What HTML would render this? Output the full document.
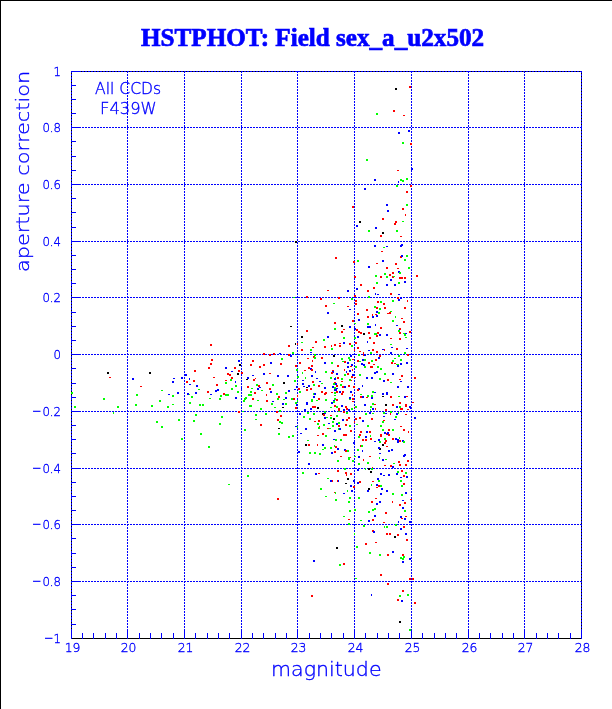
<!DOCTYPE html>
<html><head><meta charset="utf-8"><title>HSTPHOT: Field sex_a_u2x502</title>
<style>html,body{margin:0;padding:0;background:#fff;width:612px;height:709px;overflow:hidden}svg{display:block}</style>
</head><body>
<svg width="612" height="709" viewBox="0 0 612 709"><g shape-rendering="crispEdges"><rect x="0" y="0" width="612" height="1" fill="#000"/>
<rect x="0" y="0" width="1" height="709" fill="#000"/>
<rect x="71" y="71" width="511" height="1" fill="#000"/>
<rect x="71" y="638" width="511" height="1" fill="#000"/>
<rect x="71" y="71" width="1" height="568" fill="#000"/>
<rect x="581" y="71" width="1" height="568" fill="#000"/>
<defs><pattern id="ph" x="0" y="0" width="3" height="1" patternUnits="userSpaceOnUse"><rect x="1" y="0" width="2" height="1" fill="#00f"/></pattern><pattern id="pv" x="0" y="0" width="1" height="3" patternUnits="userSpaceOnUse"><rect x="0" y="2" width="1" height="1" fill="#00f"/><rect x="0" y="0" width="1" height="1" fill="#00f"/></pattern></defs>
<rect x="71" y="71" width="511" height="1" fill="url(#ph)"/>
<rect x="71" y="127" width="511" height="1" fill="url(#ph)"/>
<rect x="71" y="184" width="511" height="1" fill="url(#ph)"/>
<rect x="71" y="241" width="511" height="1" fill="url(#ph)"/>
<rect x="71" y="297" width="511" height="1" fill="url(#ph)"/>
<rect x="71" y="354" width="511" height="1" fill="url(#ph)"/>
<rect x="71" y="411" width="511" height="1" fill="url(#ph)"/>
<rect x="71" y="468" width="511" height="1" fill="url(#ph)"/>
<rect x="71" y="524" width="511" height="1" fill="url(#ph)"/>
<rect x="71" y="581" width="511" height="1" fill="url(#ph)"/>
<rect x="71" y="71" width="1" height="568" fill="url(#pv)"/>
<rect x="127" y="71" width="1" height="568" fill="url(#pv)"/>
<rect x="184" y="71" width="1" height="568" fill="url(#pv)"/>
<rect x="241" y="71" width="1" height="568" fill="url(#pv)"/>
<rect x="297" y="71" width="1" height="568" fill="url(#pv)"/>
<rect x="354" y="71" width="1" height="568" fill="url(#pv)"/>
<rect x="411" y="71" width="1" height="568" fill="url(#pv)"/>
<rect x="468" y="71" width="1" height="568" fill="url(#pv)"/>
<rect x="524" y="71" width="1" height="568" fill="url(#pv)"/>
<rect x="581" y="71" width="1" height="568" fill="url(#pv)"/>
<rect x="71" y="629" width="1" height="10" fill="#00f"/>
<rect x="82" y="633" width="1" height="6" fill="#00f"/>
<rect x="93" y="633" width="1" height="6" fill="#00f"/>
<rect x="105" y="633" width="1" height="6" fill="#00f"/>
<rect x="116" y="633" width="1" height="6" fill="#00f"/>
<rect x="127" y="629" width="1" height="10" fill="#00f"/>
<rect x="139" y="633" width="1" height="6" fill="#00f"/>
<rect x="150" y="633" width="1" height="6" fill="#00f"/>
<rect x="161" y="633" width="1" height="6" fill="#00f"/>
<rect x="173" y="633" width="1" height="6" fill="#00f"/>
<rect x="184" y="629" width="1" height="10" fill="#00f"/>
<rect x="195" y="633" width="1" height="6" fill="#00f"/>
<rect x="207" y="633" width="1" height="6" fill="#00f"/>
<rect x="218" y="633" width="1" height="6" fill="#00f"/>
<rect x="229" y="633" width="1" height="6" fill="#00f"/>
<rect x="241" y="629" width="1" height="10" fill="#00f"/>
<rect x="252" y="633" width="1" height="6" fill="#00f"/>
<rect x="263" y="633" width="1" height="6" fill="#00f"/>
<rect x="275" y="633" width="1" height="6" fill="#00f"/>
<rect x="286" y="633" width="1" height="6" fill="#00f"/>
<rect x="297" y="629" width="1" height="10" fill="#00f"/>
<rect x="309" y="633" width="1" height="6" fill="#00f"/>
<rect x="320" y="633" width="1" height="6" fill="#00f"/>
<rect x="331" y="633" width="1" height="6" fill="#00f"/>
<rect x="343" y="633" width="1" height="6" fill="#00f"/>
<rect x="354" y="629" width="1" height="10" fill="#00f"/>
<rect x="365" y="633" width="1" height="6" fill="#00f"/>
<rect x="377" y="633" width="1" height="6" fill="#00f"/>
<rect x="388" y="633" width="1" height="6" fill="#00f"/>
<rect x="399" y="633" width="1" height="6" fill="#00f"/>
<rect x="411" y="629" width="1" height="10" fill="#00f"/>
<rect x="422" y="633" width="1" height="6" fill="#00f"/>
<rect x="434" y="633" width="1" height="6" fill="#00f"/>
<rect x="445" y="633" width="1" height="6" fill="#00f"/>
<rect x="456" y="633" width="1" height="6" fill="#00f"/>
<rect x="468" y="629" width="1" height="10" fill="#00f"/>
<rect x="479" y="633" width="1" height="6" fill="#00f"/>
<rect x="490" y="633" width="1" height="6" fill="#00f"/>
<rect x="502" y="633" width="1" height="6" fill="#00f"/>
<rect x="513" y="633" width="1" height="6" fill="#00f"/>
<rect x="524" y="629" width="1" height="10" fill="#00f"/>
<rect x="536" y="633" width="1" height="6" fill="#00f"/>
<rect x="547" y="633" width="1" height="6" fill="#00f"/>
<rect x="558" y="633" width="1" height="6" fill="#00f"/>
<rect x="570" y="633" width="1" height="6" fill="#00f"/>
<rect x="581" y="629" width="1" height="10" fill="#00f"/>
<rect x="71" y="71" width="10" height="1" fill="#00f"/>
<rect x="71" y="85" width="5" height="1" fill="#00f"/>
<rect x="71" y="99" width="5" height="1" fill="#00f"/>
<rect x="71" y="113" width="5" height="1" fill="#00f"/>
<rect x="71" y="127" width="10" height="1" fill="#00f"/>
<rect x="71" y="141" width="5" height="1" fill="#00f"/>
<rect x="71" y="156" width="5" height="1" fill="#00f"/>
<rect x="71" y="170" width="5" height="1" fill="#00f"/>
<rect x="71" y="184" width="10" height="1" fill="#00f"/>
<rect x="71" y="198" width="5" height="1" fill="#00f"/>
<rect x="71" y="212" width="5" height="1" fill="#00f"/>
<rect x="71" y="227" width="5" height="1" fill="#00f"/>
<rect x="71" y="241" width="10" height="1" fill="#00f"/>
<rect x="71" y="255" width="5" height="1" fill="#00f"/>
<rect x="71" y="269" width="5" height="1" fill="#00f"/>
<rect x="71" y="283" width="5" height="1" fill="#00f"/>
<rect x="71" y="297" width="10" height="1" fill="#00f"/>
<rect x="71" y="312" width="5" height="1" fill="#00f"/>
<rect x="71" y="326" width="5" height="1" fill="#00f"/>
<rect x="71" y="340" width="5" height="1" fill="#00f"/>
<rect x="71" y="354" width="10" height="1" fill="#00f"/>
<rect x="71" y="368" width="5" height="1" fill="#00f"/>
<rect x="71" y="383" width="5" height="1" fill="#00f"/>
<rect x="71" y="397" width="5" height="1" fill="#00f"/>
<rect x="71" y="411" width="10" height="1" fill="#00f"/>
<rect x="71" y="425" width="5" height="1" fill="#00f"/>
<rect x="71" y="439" width="5" height="1" fill="#00f"/>
<rect x="71" y="453" width="5" height="1" fill="#00f"/>
<rect x="71" y="468" width="10" height="1" fill="#00f"/>
<rect x="71" y="482" width="5" height="1" fill="#00f"/>
<rect x="71" y="496" width="5" height="1" fill="#00f"/>
<rect x="71" y="510" width="5" height="1" fill="#00f"/>
<rect x="71" y="524" width="10" height="1" fill="#00f"/>
<rect x="71" y="538" width="5" height="1" fill="#00f"/>
<rect x="71" y="553" width="5" height="1" fill="#00f"/>
<rect x="71" y="567" width="5" height="1" fill="#00f"/>
<rect x="71" y="581" width="10" height="1" fill="#00f"/>
<rect x="71" y="595" width="5" height="1" fill="#00f"/>
<rect x="71" y="609" width="5" height="1" fill="#00f"/>
<rect x="71" y="624" width="5" height="1" fill="#00f"/>
<rect x="395" y="88" width="2" height="2" fill="#000"/>
<rect x="409" y="86" width="2" height="2" fill="#f00"/>
<rect x="393" y="110" width="2" height="2" fill="#f00"/>
<rect x="376" y="113" width="2" height="2" fill="#0f0"/>
<rect x="403" y="115" width="2" height="1" fill="#f00"/>
<rect x="408" y="130" width="2" height="2" fill="#00f"/>
<rect x="398" y="132" width="2" height="2" fill="#00f"/>
<rect x="402" y="142" width="2" height="2" fill="#0f0"/>
<rect x="410" y="143" width="2" height="2" fill="#f00"/>
<rect x="366" y="159" width="2" height="2" fill="#0f0"/>
<rect x="411" y="168" width="2" height="2" fill="#00f"/>
<rect x="397" y="170" width="2" height="1" fill="#f00"/>
<rect x="374" y="179" width="2" height="2" fill="#00f"/>
<rect x="400" y="179" width="2" height="2" fill="#0f0"/>
<rect x="402" y="180" width="2" height="2" fill="#0f0"/>
<rect x="406" y="178" width="2" height="2" fill="#0f0"/>
<rect x="398" y="181" width="1" height="2" fill="#00f"/>
<rect x="396" y="185" width="2" height="2" fill="#0f0"/>
<rect x="410" y="185" width="2" height="2" fill="#f00"/>
<rect x="364" y="188" width="2" height="2" fill="#00f"/>
<rect x="406" y="191" width="2" height="2" fill="#f00"/>
<rect x="386" y="204" width="2" height="2" fill="#00f"/>
<rect x="406" y="204" width="2" height="2" fill="#0f0"/>
<rect x="402" y="208" width="2" height="2" fill="#f00"/>
<rect x="387" y="210" width="2" height="2" fill="#00f"/>
<rect x="405" y="214" width="1" height="2" fill="#f00"/>
<rect x="382" y="218" width="2" height="2" fill="#f00"/>
<rect x="359" y="221" width="2" height="2" fill="#000"/>
<rect x="395" y="221" width="2" height="2" fill="#f00"/>
<rect x="402" y="221" width="2" height="1" fill="#0f0"/>
<rect x="394" y="223" width="2" height="2" fill="#f00"/>
<rect x="356" y="225" width="2" height="2" fill="#00f"/>
<rect x="375" y="227" width="2" height="2" fill="#00f"/>
<rect x="368" y="230" width="2" height="2" fill="#0f0"/>
<rect x="396" y="230" width="2" height="2" fill="#0f0"/>
<rect x="382" y="232" width="2" height="2" fill="#000"/>
<rect x="380" y="235" width="2" height="2" fill="#f00"/>
<rect x="400" y="236" width="2" height="1" fill="#f00"/>
<rect x="374" y="245" width="2" height="2" fill="#00f"/>
<rect x="383" y="247" width="2" height="1" fill="#0f0"/>
<rect x="386" y="246" width="2" height="1" fill="#00f"/>
<rect x="401" y="244" width="2" height="2" fill="#00f"/>
<rect x="400" y="245" width="2" height="2" fill="#00f"/>
<rect x="381" y="251" width="2" height="1" fill="#f00"/>
<rect x="400" y="256" width="2" height="2" fill="#f00"/>
<rect x="401" y="255" width="2" height="2" fill="#00f"/>
<rect x="406" y="255" width="2" height="2" fill="#0f0"/>
<rect x="404" y="259" width="2" height="2" fill="#0f0"/>
<rect x="353" y="261" width="2" height="2" fill="#f00"/>
<rect x="357" y="260" width="2" height="2" fill="#0f0"/>
<rect x="382" y="260" width="2" height="2" fill="#00f"/>
<rect x="376" y="263" width="2" height="1" fill="#f00"/>
<rect x="395" y="263" width="2" height="2" fill="#f00"/>
<rect x="368" y="266" width="2" height="2" fill="#00f"/>
<rect x="386" y="267" width="2" height="2" fill="#f00"/>
<rect x="397" y="268" width="2" height="1" fill="#f00"/>
<rect x="408" y="267" width="2" height="2" fill="#0f0"/>
<rect x="398" y="271" width="2" height="2" fill="#00f"/>
<rect x="399" y="272" width="2" height="2" fill="#0f0"/>
<rect x="392" y="272" width="2" height="2" fill="#f00"/>
<rect x="384" y="273" width="2" height="2" fill="#0f0"/>
<rect x="389" y="274" width="2" height="2" fill="#f00"/>
<rect x="375" y="275" width="2" height="2" fill="#0f0"/>
<rect x="354" y="276" width="2" height="2" fill="#f00"/>
<rect x="380" y="276" width="2" height="2" fill="#f00"/>
<rect x="386" y="276" width="2" height="2" fill="#0f0"/>
<rect x="392" y="276" width="2" height="2" fill="#f00"/>
<rect x="393" y="276" width="2" height="1" fill="#0f0"/>
<rect x="399" y="277" width="4" height="2" fill="#f00"/>
<rect x="404" y="277" width="2" height="2" fill="#f00"/>
<rect x="390" y="279" width="2" height="2" fill="#00f"/>
<rect x="404" y="281" width="2" height="2" fill="#00f"/>
<rect x="376" y="282" width="2" height="2" fill="#0f0"/>
<rect x="398" y="282" width="2" height="2" fill="#0f0"/>
<rect x="386" y="284" width="2" height="2" fill="#00f"/>
<rect x="394" y="284" width="2" height="2" fill="#00f"/>
<rect x="360" y="284" width="2" height="2" fill="#f00"/>
<rect x="356" y="288" width="2" height="2" fill="#00f"/>
<rect x="373" y="287" width="2" height="2" fill="#f00"/>
<rect x="367" y="290" width="2" height="2" fill="#f00"/>
<rect x="375" y="293" width="1" height="2" fill="#00f"/>
<rect x="377" y="294" width="2" height="1" fill="#00f"/>
<rect x="390" y="293" width="2" height="2" fill="#f00"/>
<rect x="398" y="294" width="2" height="1" fill="#00f"/>
<rect x="354" y="295" width="2" height="2" fill="#f00"/>
<rect x="368" y="296" width="2" height="2" fill="#0f0"/>
<rect x="397" y="297" width="2" height="2" fill="#f00"/>
<rect x="400" y="297" width="2" height="2" fill="#00f"/>
<rect x="398" y="299" width="2" height="2" fill="#00f"/>
<rect x="355" y="300" width="2" height="2" fill="#f00"/>
<rect x="377" y="301" width="2" height="2" fill="#f00"/>
<rect x="380" y="301" width="2" height="2" fill="#0f0"/>
<rect x="392" y="300" width="2" height="2" fill="#0f0"/>
<rect x="407" y="300" width="1" height="2" fill="#f00"/>
<rect x="355" y="303" width="2" height="2" fill="#f00"/>
<rect x="383" y="303" width="2" height="2" fill="#f00"/>
<rect x="374" y="306" width="2" height="2" fill="#0f0"/>
<rect x="376" y="307" width="2" height="2" fill="#f00"/>
<rect x="384" y="307" width="2" height="2" fill="#f00"/>
<rect x="379" y="308" width="2" height="2" fill="#0f0"/>
<rect x="404" y="307" width="2" height="2" fill="#f00"/>
<rect x="366" y="309" width="2" height="2" fill="#f00"/>
<rect x="376" y="311" width="2" height="2" fill="#00f"/>
<rect x="378" y="312" width="2" height="2" fill="#0f0"/>
<rect x="390" y="311" width="2" height="1" fill="#0f0"/>
<rect x="387" y="313" width="2" height="1" fill="#f00"/>
<rect x="389" y="312" width="2" height="2" fill="#f00"/>
<rect x="357" y="313" width="2" height="2" fill="#f00"/>
<rect x="372" y="314" width="1" height="2" fill="#f00"/>
<rect x="375" y="314" width="2" height="1" fill="#f00"/>
<rect x="376" y="315" width="2" height="2" fill="#00f"/>
<rect x="372" y="316" width="2" height="2" fill="#00f"/>
<rect x="367" y="316" width="2" height="2" fill="#f00"/>
<rect x="395" y="316" width="1" height="2" fill="#0f0"/>
<rect x="401" y="318" width="2" height="1" fill="#f00"/>
<rect x="358" y="319" width="2" height="2" fill="#00f"/>
<rect x="392" y="320" width="2" height="2" fill="#0f0"/>
<rect x="403" y="321" width="2" height="2" fill="#f00"/>
<rect x="354" y="323" width="2" height="1" fill="#0f0"/>
<rect x="367" y="323" width="2" height="2" fill="#0f0"/>
<rect x="375" y="324" width="1" height="2" fill="#00f"/>
<rect x="396" y="325" width="2" height="1" fill="#00f"/>
<rect x="367" y="326" width="4" height="2" fill="#00f"/>
<rect x="380" y="327" width="2" height="2" fill="#f00"/>
<rect x="354" y="328" width="2" height="2" fill="#00f"/>
<rect x="399" y="328" width="2" height="2" fill="#f00"/>
<rect x="399" y="329" width="1" height="2" fill="#00f"/>
<rect x="398" y="330" width="2" height="2" fill="#0f0"/>
<rect x="356" y="329" width="2" height="2" fill="#f00"/>
<rect x="358" y="331" width="2" height="2" fill="#f00"/>
<rect x="360" y="332" width="2" height="2" fill="#f00"/>
<rect x="363" y="333" width="2" height="2" fill="#000"/>
<rect x="368" y="332" width="2" height="2" fill="#f00"/>
<rect x="377" y="332" width="2" height="2" fill="#f00"/>
<rect x="374" y="333" width="3" height="2" fill="#0f0"/>
<rect x="376" y="335" width="2" height="2" fill="#f00"/>
<rect x="379" y="334" width="2" height="2" fill="#00f"/>
<rect x="386" y="334" width="2" height="2" fill="#00f"/>
<rect x="399" y="332" width="2" height="2" fill="#f00"/>
<rect x="403" y="333" width="2" height="1" fill="#0f0"/>
<rect x="405" y="333" width="2" height="1" fill="#00f"/>
<rect x="404" y="334" width="2" height="2" fill="#0f0"/>
<rect x="409" y="331" width="2" height="2" fill="#f00"/>
<rect x="357" y="336" width="2" height="2" fill="#00f"/>
<rect x="354" y="337" width="2" height="2" fill="#0f0"/>
<rect x="369" y="337" width="2" height="2" fill="#f00"/>
<rect x="405" y="337" width="2" height="1" fill="#0f0"/>
<rect x="390" y="338" width="2" height="1" fill="#f00"/>
<rect x="399" y="338" width="2" height="2" fill="#f00"/>
<rect x="367" y="341" width="1" height="2" fill="#00f"/>
<rect x="355" y="342" width="2" height="2" fill="#f00"/>
<rect x="373" y="342" width="2" height="2" fill="#f00"/>
<rect x="390" y="344" width="2" height="1" fill="#0f0"/>
<rect x="391" y="347" width="2" height="1" fill="#00f"/>
<rect x="406" y="348" width="2" height="1" fill="#00f"/>
<rect x="357" y="347" width="2" height="2" fill="#f00"/>
<rect x="396" y="348" width="2" height="2" fill="#f00"/>
<rect x="354" y="349" width="1" height="2" fill="#f00"/>
<rect x="368" y="350" width="2" height="1" fill="#00f"/>
<rect x="372" y="349" width="2" height="2" fill="#f00"/>
<rect x="382" y="349" width="2" height="1" fill="#00f"/>
<rect x="384" y="349" width="1" height="2" fill="#f00"/>
<rect x="359" y="351" width="2" height="1" fill="#f00"/>
<rect x="376" y="351" width="2" height="2" fill="#f00"/>
<rect x="370" y="352" width="2" height="2" fill="#0f0"/>
<rect x="363" y="352" width="1" height="2" fill="#f00"/>
<rect x="390" y="352" width="2" height="2" fill="#00f"/>
<rect x="404" y="352" width="2" height="2" fill="#0f0"/>
<rect x="358" y="354" width="2" height="2" fill="#0f0"/>
<rect x="363" y="354" width="1" height="2" fill="#f00"/>
<rect x="364" y="354" width="2" height="2" fill="#00f"/>
<rect x="379" y="355" width="2" height="2" fill="#f00"/>
<rect x="398" y="355" width="2" height="2" fill="#0f0"/>
<rect x="407" y="354" width="2" height="2" fill="#f00"/>
<rect x="378" y="357" width="2" height="2" fill="#00f"/>
<rect x="357" y="360" width="2" height="2" fill="#f00"/>
<rect x="359" y="361" width="2" height="1" fill="#0f0"/>
<rect x="362" y="359" width="2" height="2" fill="#00f"/>
<rect x="364" y="359" width="2" height="2" fill="#0f0"/>
<rect x="371" y="360" width="2" height="2" fill="#0f0"/>
<rect x="375" y="359" width="2" height="2" fill="#f00"/>
<rect x="394" y="358" width="2" height="1" fill="#0f0"/>
<rect x="392" y="360" width="2" height="2" fill="#0f0"/>
<rect x="400" y="359" width="2" height="2" fill="#0f0"/>
<rect x="406" y="362" width="2" height="2" fill="#00f"/>
<rect x="391" y="362" width="2" height="2" fill="#f00"/>
<rect x="394" y="363" width="2" height="1" fill="#f00"/>
<rect x="400" y="363" width="2" height="2" fill="#00f"/>
<rect x="396" y="364" width="3" height="1" fill="#0f0"/>
<rect x="397" y="365" width="2" height="2" fill="#00f"/>
<rect x="368" y="362" width="2" height="2" fill="#f00"/>
<rect x="361" y="363" width="2" height="2" fill="#00f"/>
<rect x="363" y="364" width="2" height="2" fill="#00f"/>
<rect x="373" y="364" width="2" height="1" fill="#f00"/>
<rect x="355" y="366" width="2" height="2" fill="#0f0"/>
<rect x="364" y="366" width="2" height="2" fill="#0f0"/>
<rect x="370" y="366" width="3" height="2" fill="#f00"/>
<rect x="377" y="366" width="2" height="2" fill="#0f0"/>
<rect x="380" y="368" width="2" height="2" fill="#0f0"/>
<rect x="374" y="372" width="2" height="2" fill="#00f"/>
<rect x="376" y="371" width="2" height="2" fill="#00f"/>
<rect x="359" y="374" width="2" height="2" fill="#0f0"/>
<rect x="384" y="373" width="2" height="2" fill="#0f0"/>
<rect x="392" y="373" width="2" height="2" fill="#00f"/>
<rect x="354" y="377" width="2" height="1" fill="#f00"/>
<rect x="366" y="377" width="2" height="2" fill="#00f"/>
<rect x="371" y="377" width="2" height="2" fill="#00f"/>
<rect x="401" y="375" width="2" height="2" fill="#f00"/>
<rect x="379" y="378" width="2" height="2" fill="#0f0"/>
<rect x="387" y="379" width="2" height="2" fill="#f00"/>
<rect x="399" y="379" width="2" height="1" fill="#f00"/>
<rect x="383" y="380" width="2" height="2" fill="#00f"/>
<rect x="400" y="381" width="2" height="1" fill="#00f"/>
<rect x="390" y="382" width="2" height="1" fill="#0f0"/>
<rect x="362" y="385" width="1" height="2" fill="#00f"/>
<rect x="354" y="386" width="1" height="2" fill="#f00"/>
<rect x="397" y="386" width="2" height="2" fill="#00f"/>
<rect x="407" y="386" width="2" height="2" fill="#00f"/>
<rect x="358" y="388" width="2" height="2" fill="#00f"/>
<rect x="357" y="389" width="2" height="2" fill="#f00"/>
<rect x="372" y="391" width="2" height="2" fill="#0f0"/>
<rect x="374" y="392" width="2" height="1" fill="#00f"/>
<rect x="382" y="393" width="2" height="2" fill="#00f"/>
<rect x="386" y="392" width="2" height="3" fill="#00f"/>
<rect x="360" y="394" width="2" height="1" fill="#0f0"/>
<rect x="360" y="396" width="2" height="2" fill="#f00"/>
<rect x="362" y="396" width="2" height="2" fill="#00f"/>
<rect x="367" y="395" width="2" height="2" fill="#0f0"/>
<rect x="366" y="397" width="2" height="1" fill="#f00"/>
<rect x="371" y="395" width="2" height="2" fill="#0f0"/>
<rect x="371" y="397" width="2" height="2" fill="#00f"/>
<rect x="382" y="396" width="2" height="1" fill="#000"/>
<rect x="390" y="396" width="2" height="2" fill="#f00"/>
<rect x="398" y="396" width="2" height="1" fill="#0f0"/>
<rect x="404" y="396" width="2" height="2" fill="#00f"/>
<rect x="406" y="396" width="2" height="1" fill="#f00"/>
<rect x="412" y="402" width="2" height="1" fill="#f00"/>
<rect x="399" y="402" width="2" height="2" fill="#f00"/>
<rect x="364" y="404" width="2" height="2" fill="#00f"/>
<rect x="372" y="403" width="2" height="2" fill="#0f0"/>
<rect x="374" y="404" width="2" height="1" fill="#f00"/>
<rect x="385" y="404" width="2" height="2" fill="#000"/>
<rect x="392" y="404" width="2" height="2" fill="#f00"/>
<rect x="405" y="404" width="2" height="3" fill="#f00"/>
<rect x="396" y="406" width="2" height="2" fill="#00f"/>
<rect x="399" y="406" width="2" height="2" fill="#0f0"/>
<rect x="370" y="406" width="2" height="2" fill="#0f0"/>
<rect x="354" y="407" width="2" height="1" fill="#f00"/>
<rect x="355" y="406" width="2" height="2" fill="#0f0"/>
<rect x="409" y="406" width="2" height="2" fill="#00f"/>
<rect x="410" y="407" width="2" height="2" fill="#00f"/>
<rect x="372" y="408" width="2" height="2" fill="#00f"/>
<rect x="375" y="408" width="1" height="2" fill="#f00"/>
<rect x="400" y="408" width="3" height="2" fill="#f00"/>
<rect x="407" y="409" width="2" height="1" fill="#f00"/>
<rect x="385" y="409" width="2" height="2" fill="#f00"/>
<rect x="370" y="409" width="1" height="2" fill="#0f0"/>
<rect x="365" y="413" width="2" height="2" fill="#0f0"/>
<rect x="369" y="412" width="2" height="2" fill="#00f"/>
<rect x="372" y="413" width="2" height="1" fill="#0f0"/>
<rect x="383" y="412" width="2" height="2" fill="#0f0"/>
<rect x="385" y="413" width="2" height="1" fill="#00f"/>
<rect x="390" y="411" width="2" height="2" fill="#0f0"/>
<rect x="390" y="413" width="1" height="2" fill="#f00"/>
<rect x="396" y="413" width="2" height="2" fill="#00f"/>
<rect x="398" y="412" width="1" height="2" fill="#0f0"/>
<rect x="405" y="414" width="2" height="1" fill="#f00"/>
<rect x="355" y="418" width="2" height="2" fill="#f00"/>
<rect x="359" y="417" width="2" height="2" fill="#f00"/>
<rect x="362" y="420" width="2" height="2" fill="#00f"/>
<rect x="371" y="418" width="2" height="2" fill="#f00"/>
<rect x="383" y="416" width="2" height="1" fill="#00f"/>
<rect x="395" y="416" width="2" height="2" fill="#0f0"/>
<rect x="394" y="419" width="2" height="1" fill="#00f"/>
<rect x="383" y="420" width="2" height="1" fill="#f00"/>
<rect x="382" y="421" width="2" height="2" fill="#0f0"/>
<rect x="354" y="421" width="1" height="2" fill="#f00"/>
<rect x="356" y="424" width="2" height="1" fill="#0f0"/>
<rect x="367" y="425" width="2" height="2" fill="#0f0"/>
<rect x="380" y="425" width="2" height="2" fill="#0f0"/>
<rect x="400" y="426" width="2" height="1" fill="#f00"/>
<rect x="382" y="429" width="2" height="2" fill="#0f0"/>
<rect x="388" y="429" width="2" height="2" fill="#f00"/>
<rect x="392" y="429" width="2" height="2" fill="#0f0"/>
<rect x="403" y="429" width="2" height="2" fill="#f00"/>
<rect x="360" y="431" width="2" height="2" fill="#f00"/>
<rect x="366" y="431" width="2" height="2" fill="#00f"/>
<rect x="369" y="431" width="2" height="2" fill="#f00"/>
<rect x="408" y="431" width="1" height="2" fill="#f00"/>
<rect x="384" y="432" width="2" height="2" fill="#00f"/>
<rect x="387" y="432" width="2" height="3" fill="#00f"/>
<rect x="380" y="434" width="2" height="3" fill="#f00"/>
<rect x="386" y="433" width="1" height="2" fill="#f00"/>
<rect x="388" y="434" width="2" height="2" fill="#f00"/>
<rect x="359" y="434" width="2" height="2" fill="#f00"/>
<rect x="370" y="435" width="1" height="2" fill="#0f0"/>
<rect x="365" y="436" width="2" height="2" fill="#00f"/>
<rect x="358" y="436" width="2" height="2" fill="#0f0"/>
<rect x="399" y="437" width="1" height="2" fill="#0f0"/>
<rect x="362" y="439" width="2" height="2" fill="#f00"/>
<rect x="365" y="439" width="2" height="2" fill="#f00"/>
<rect x="370" y="438" width="2" height="2" fill="#f00"/>
<rect x="378" y="439" width="2" height="2" fill="#00f"/>
<rect x="384" y="438" width="2" height="2" fill="#0f0"/>
<rect x="392" y="438" width="2" height="2" fill="#f00"/>
<rect x="395" y="438" width="2" height="2" fill="#00f"/>
<rect x="397" y="439" width="2" height="4" fill="#00f"/>
<rect x="399" y="440" width="2" height="2" fill="#f00"/>
<rect x="402" y="440" width="2" height="2" fill="#00f"/>
<rect x="403" y="441" width="2" height="2" fill="#0f0"/>
<rect x="374" y="441" width="2" height="1" fill="#00f"/>
<rect x="379" y="441" width="2" height="2" fill="#0f0"/>
<rect x="385" y="440" width="2" height="2" fill="#f00"/>
<rect x="384" y="442" width="2" height="2" fill="#f00"/>
<rect x="382" y="444" width="2" height="2" fill="#000"/>
<rect x="386" y="446" width="2" height="1" fill="#f00"/>
<rect x="360" y="445" width="1" height="2" fill="#f00"/>
<rect x="361" y="445" width="2" height="2" fill="#0f0"/>
<rect x="379" y="448" width="2" height="2" fill="#000"/>
<rect x="378" y="447" width="2" height="2" fill="#00f"/>
<rect x="357" y="449" width="2" height="2" fill="#0f0"/>
<rect x="362" y="450" width="1" height="2" fill="#00f"/>
<rect x="388" y="450" width="2" height="2" fill="#00f"/>
<rect x="391" y="449" width="2" height="2" fill="#00f"/>
<rect x="379" y="453" width="2" height="1" fill="#00f"/>
<rect x="404" y="454" width="2" height="2" fill="#00f"/>
<rect x="403" y="455" width="2" height="2" fill="#00f"/>
<rect x="354" y="456" width="2" height="1" fill="#0f0"/>
<rect x="358" y="456" width="2" height="2" fill="#00f"/>
<rect x="369" y="456" width="2" height="1" fill="#f00"/>
<rect x="379" y="457" width="1" height="2" fill="#0f0"/>
<rect x="363" y="459" width="1" height="2" fill="#f00"/>
<rect x="382" y="459" width="2" height="2" fill="#00f"/>
<rect x="385" y="459" width="2" height="1" fill="#0f0"/>
<rect x="398" y="461" width="2" height="2" fill="#f00"/>
<rect x="407" y="460" width="2" height="2" fill="#f00"/>
<rect x="367" y="462" width="2" height="2" fill="#0f0"/>
<rect x="358" y="463" width="2" height="2" fill="#0f0"/>
<rect x="393" y="463" width="2" height="1" fill="#0f0"/>
<rect x="399" y="464" width="2" height="2" fill="#f00"/>
<rect x="405" y="464" width="2" height="2" fill="#f00"/>
<rect x="384" y="465" width="2" height="1" fill="#f00"/>
<rect x="390" y="465" width="2" height="2" fill="#f00"/>
<rect x="392" y="466" width="2" height="2" fill="#00f"/>
<rect x="357" y="469" width="2" height="2" fill="#00f"/>
<rect x="365" y="468" width="1" height="2" fill="#0f0"/>
<rect x="368" y="468" width="2" height="2" fill="#000"/>
<rect x="372" y="467" width="1" height="2" fill="#f00"/>
<rect x="371" y="468" width="2" height="2" fill="#0f0"/>
<rect x="370" y="471" width="2" height="2" fill="#000"/>
<rect x="401" y="470" width="2" height="2" fill="#f00"/>
<rect x="397" y="471" width="2" height="2" fill="#0f0"/>
<rect x="405" y="472" width="2" height="2" fill="#0f0"/>
<rect x="380" y="473" width="2" height="2" fill="#00f"/>
<rect x="383" y="475" width="2" height="1" fill="#00f"/>
<rect x="388" y="474" width="2" height="2" fill="#00f"/>
<rect x="396" y="473" width="2" height="2" fill="#00f"/>
<rect x="403" y="475" width="2" height="2" fill="#f00"/>
<rect x="406" y="476" width="2" height="2" fill="#00f"/>
<rect x="400" y="477" width="2" height="1" fill="#00f"/>
<rect x="377" y="478" width="2" height="2" fill="#00f"/>
<rect x="378" y="480" width="2" height="2" fill="#0f0"/>
<rect x="372" y="481" width="2" height="1" fill="#f00"/>
<rect x="359" y="481" width="2" height="2" fill="#f00"/>
<rect x="357" y="482" width="2" height="2" fill="#00f"/>
<rect x="400" y="480" width="2" height="2" fill="#0f0"/>
<rect x="403" y="483" width="2" height="2" fill="#f00"/>
<rect x="371" y="484" width="1" height="2" fill="#0f0"/>
<rect x="376" y="484" width="2" height="2" fill="#00f"/>
<rect x="378" y="485" width="2" height="2" fill="#f00"/>
<rect x="376" y="487" width="2" height="1" fill="#f00"/>
<rect x="380" y="485" width="2" height="2" fill="#0f0"/>
<rect x="354" y="486" width="1" height="2" fill="#f00"/>
<rect x="401" y="485" width="2" height="2" fill="#0f0"/>
<rect x="381" y="488" width="2" height="2" fill="#00f"/>
<rect x="368" y="488" width="2" height="2" fill="#000"/>
<rect x="367" y="490" width="2" height="2" fill="#00f"/>
<rect x="386" y="490" width="2" height="2" fill="#00f"/>
<rect x="380" y="493" width="2" height="2" fill="#00f"/>
<rect x="392" y="493" width="2" height="2" fill="#0f0"/>
<rect x="405" y="492" width="2" height="2" fill="#00f"/>
<rect x="401" y="494" width="2" height="2" fill="#0f0"/>
<rect x="358" y="497" width="2" height="2" fill="#0f0"/>
<rect x="375" y="498" width="2" height="1" fill="#f00"/>
<rect x="402" y="500" width="2" height="1" fill="#00f"/>
<rect x="410" y="499" width="2" height="1" fill="#f00"/>
<rect x="371" y="501" width="2" height="2" fill="#f00"/>
<rect x="379" y="501" width="2" height="2" fill="#00f"/>
<rect x="392" y="501" width="1" height="2" fill="#f00"/>
<rect x="404" y="502" width="2" height="2" fill="#f00"/>
<rect x="376" y="503" width="2" height="2" fill="#00f"/>
<rect x="399" y="504" width="2" height="2" fill="#f00"/>
<rect x="402" y="507" width="2" height="2" fill="#00f"/>
<rect x="354" y="509" width="2" height="2" fill="#0f0"/>
<rect x="372" y="509" width="2" height="2" fill="#0f0"/>
<rect x="374" y="508" width="2" height="2" fill="#0f0"/>
<rect x="368" y="511" width="2" height="2" fill="#0f0"/>
<rect x="404" y="510" width="2" height="2" fill="#0f0"/>
<rect x="385" y="512" width="2" height="2" fill="#f00"/>
<rect x="374" y="515" width="2" height="2" fill="#00f"/>
<rect x="400" y="516" width="2" height="2" fill="#00f"/>
<rect x="405" y="516" width="2" height="1" fill="#f00"/>
<rect x="401" y="518" width="2" height="1" fill="#f00"/>
<rect x="404" y="518" width="2" height="2" fill="#00f"/>
<rect x="372" y="519" width="2" height="2" fill="#f00"/>
<rect x="368" y="520" width="2" height="2" fill="#00f"/>
<rect x="360" y="520" width="2" height="1" fill="#0f0"/>
<rect x="383" y="522" width="2" height="1" fill="#f00"/>
<rect x="398" y="521" width="1" height="2" fill="#00f"/>
<rect x="409" y="521" width="3" height="2" fill="#00f"/>
<rect x="363" y="525" width="2" height="2" fill="#0f0"/>
<rect x="384" y="526" width="1" height="2" fill="#0f0"/>
<rect x="386" y="526" width="2" height="2" fill="#0f0"/>
<rect x="395" y="524" width="2" height="2" fill="#0f0"/>
<rect x="403" y="526" width="2" height="2" fill="#f00"/>
<rect x="400" y="528" width="2" height="2" fill="#00f"/>
<rect x="372" y="530" width="2" height="2" fill="#f00"/>
<rect x="373" y="531" width="2" height="2" fill="#00f"/>
<rect x="354" y="533" width="1" height="2" fill="#0f0"/>
<rect x="386" y="533" width="2" height="2" fill="#f00"/>
<rect x="389" y="533" width="2" height="2" fill="#f00"/>
<rect x="397" y="534" width="2" height="2" fill="#f00"/>
<rect x="405" y="533" width="2" height="2" fill="#00f"/>
<rect x="394" y="536" width="2" height="2" fill="#000"/>
<rect x="406" y="539" width="2" height="2" fill="#f00"/>
<rect x="375" y="542" width="2" height="1" fill="#f00"/>
<rect x="365" y="543" width="2" height="2" fill="#f00"/>
<rect x="356" y="546" width="2" height="2" fill="#0f0"/>
<rect x="392" y="551" width="2" height="2" fill="#00f"/>
<rect x="369" y="552" width="2" height="2" fill="#0f0"/>
<rect x="379" y="554" width="2" height="2" fill="#0f0"/>
<rect x="387" y="554" width="2" height="2" fill="#f00"/>
<rect x="402" y="554" width="2" height="2" fill="#f00"/>
<rect x="400" y="557" width="2" height="2" fill="#0f0"/>
<rect x="402" y="558" width="2" height="2" fill="#0f0"/>
<rect x="403" y="556" width="2" height="2" fill="#0f0"/>
<rect x="409" y="558" width="2" height="2" fill="#00f"/>
<rect x="402" y="561" width="2" height="2" fill="#00f"/>
<rect x="380" y="574" width="2" height="2" fill="#f00"/>
<rect x="355" y="578" width="2" height="1" fill="#0f0"/>
<rect x="409" y="578" width="2" height="2" fill="#f00"/>
<rect x="412" y="578" width="2" height="2" fill="#f00"/>
<rect x="387" y="583" width="2" height="2" fill="#f00"/>
<rect x="402" y="590" width="2" height="2" fill="#f00"/>
<rect x="371" y="594" width="1" height="2" fill="#00f"/>
<rect x="399" y="595" width="2" height="2" fill="#0f0"/>
<rect x="407" y="594" width="2" height="2" fill="#0f0"/>
<rect x="397" y="599" width="2" height="2" fill="#f00"/>
<rect x="401" y="600" width="2" height="2" fill="#00f"/>
<rect x="399" y="621" width="2" height="2" fill="#000"/>
<rect x="409" y="629" width="2" height="2" fill="#0f0"/>
<rect x="352" y="206" width="2" height="2" fill="#f00"/>
<rect x="295" y="241" width="2" height="2" fill="#000"/>
<rect x="335" y="257" width="2" height="2" fill="#f00"/>
<rect x="327" y="290" width="2" height="1" fill="#f00"/>
<rect x="347" y="290" width="2" height="2" fill="#00f"/>
<rect x="306" y="296" width="2" height="2" fill="#f00"/>
<rect x="320" y="298" width="2" height="2" fill="#f00"/>
<rect x="338" y="297" width="2" height="2" fill="#f00"/>
<rect x="351" y="298" width="2" height="2" fill="#0f0"/>
<rect x="333" y="303" width="2" height="1" fill="#0f0"/>
<rect x="325" y="305" width="2" height="2" fill="#f00"/>
<rect x="347" y="306" width="2" height="1" fill="#f00"/>
<rect x="349" y="309" width="2" height="1" fill="#00f"/>
<rect x="327" y="312" width="2" height="2" fill="#00f"/>
<rect x="352" y="320" width="2" height="2" fill="#f00"/>
<rect x="334" y="322" width="2" height="2" fill="#f00"/>
<rect x="341" y="325" width="2" height="2" fill="#000"/>
<rect x="349" y="326" width="2" height="2" fill="#00f"/>
<rect x="334" y="328" width="2" height="2" fill="#0f0"/>
<rect x="343" y="329" width="2" height="1" fill="#f00"/>
<rect x="341" y="331" width="2" height="2" fill="#f00"/>
<rect x="306" y="330" width="2" height="2" fill="#f00"/>
<rect x="301" y="336" width="2" height="2" fill="#000"/>
<rect x="327" y="336" width="2" height="2" fill="#00f"/>
<rect x="323" y="339" width="2" height="2" fill="#0f0"/>
<rect x="343" y="337" width="2" height="2" fill="#0f0"/>
<rect x="297" y="343" width="1" height="2" fill="#f00"/>
<rect x="301" y="342" width="2" height="1" fill="#0f0"/>
<rect x="315" y="341" width="2" height="2" fill="#f00"/>
<rect x="339" y="343" width="2" height="1" fill="#f00"/>
<rect x="343" y="342" width="2" height="2" fill="#00f"/>
<rect x="349" y="343" width="2" height="2" fill="#f00"/>
<rect x="334" y="344" width="2" height="2" fill="#f00"/>
<rect x="331" y="345" width="1" height="2" fill="#f00"/>
<rect x="339" y="345" width="2" height="2" fill="#f00"/>
<rect x="351" y="345" width="2" height="2" fill="#0f0"/>
<rect x="324" y="346" width="2" height="2" fill="#f00"/>
<rect x="312" y="347" width="2" height="1" fill="#f00"/>
<rect x="331" y="348" width="2" height="2" fill="#0f0"/>
<rect x="301" y="349" width="2" height="2" fill="#f00"/>
<rect x="310" y="349" width="2" height="2" fill="#0f0"/>
<rect x="310" y="352" width="2" height="1" fill="#00f"/>
<rect x="314" y="354" width="2" height="2" fill="#0f0"/>
<rect x="313" y="356" width="2" height="2" fill="#f00"/>
<rect x="314" y="357" width="2" height="2" fill="#0f0"/>
<rect x="307" y="358" width="2" height="1" fill="#f00"/>
<rect x="321" y="357" width="2" height="2" fill="#f00"/>
<rect x="312" y="360" width="1" height="2" fill="#f00"/>
<rect x="299" y="362" width="2" height="2" fill="#f00"/>
<rect x="324" y="362" width="2" height="2" fill="#00f"/>
<rect x="311" y="365" width="2" height="2" fill="#f00"/>
<rect x="308" y="367" width="2" height="2" fill="#f00"/>
<rect x="310" y="368" width="2" height="2" fill="#00f"/>
<rect x="311" y="369" width="2" height="2" fill="#f00"/>
<rect x="304" y="370" width="2" height="1" fill="#f00"/>
<rect x="297" y="369" width="1" height="2" fill="#0f0"/>
<rect x="315" y="371" width="1" height="2" fill="#00f"/>
<rect x="325" y="371" width="2" height="2" fill="#0f0"/>
<rect x="302" y="372" width="1" height="2" fill="#0f0"/>
<rect x="311" y="375" width="2" height="2" fill="#00f"/>
<rect x="297" y="376" width="2" height="2" fill="#0f0"/>
<rect x="305" y="377" width="1" height="2" fill="#0f0"/>
<rect x="316" y="378" width="2" height="1" fill="#00f"/>
<rect x="302" y="380" width="2" height="1" fill="#00f"/>
<rect x="333" y="355" width="2" height="2" fill="#000"/>
<rect x="350" y="355" width="2" height="2" fill="#00f"/>
<rect x="341" y="358" width="2" height="2" fill="#0f0"/>
<rect x="348" y="357" width="2" height="2" fill="#0f0"/>
<rect x="349" y="359" width="2" height="2" fill="#0f0"/>
<rect x="352" y="359" width="2" height="1" fill="#f00"/>
<rect x="331" y="362" width="2" height="2" fill="#0f0"/>
<rect x="342" y="361" width="2" height="1" fill="#0f0"/>
<rect x="344" y="361" width="2" height="2" fill="#f00"/>
<rect x="347" y="362" width="2" height="2" fill="#00f"/>
<rect x="351" y="364" width="2" height="2" fill="#00f"/>
<rect x="337" y="365" width="2" height="2" fill="#f00"/>
<rect x="347" y="366" width="2" height="2" fill="#00f"/>
<rect x="350" y="366" width="2" height="1" fill="#f00"/>
<rect x="344" y="369" width="1" height="2" fill="#f00"/>
<rect x="352" y="369" width="1" height="2" fill="#f00"/>
<rect x="332" y="370" width="2" height="1" fill="#f00"/>
<rect x="332" y="371" width="2" height="2" fill="#00f"/>
<rect x="331" y="372" width="2" height="2" fill="#f00"/>
<rect x="349" y="370" width="2" height="2" fill="#00f"/>
<rect x="346" y="371" width="1" height="2" fill="#00f"/>
<rect x="336" y="373" width="2" height="2" fill="#00f"/>
<rect x="347" y="373" width="2" height="2" fill="#f00"/>
<rect x="344" y="374" width="2" height="2" fill="#0f0"/>
<rect x="352" y="374" width="3" height="2" fill="#00f"/>
<rect x="351" y="376" width="2" height="2" fill="#f00"/>
<rect x="330" y="377" width="2" height="2" fill="#0f0"/>
<rect x="334" y="378" width="2" height="2" fill="#00f"/>
<rect x="335" y="377" width="1" height="1" fill="#0f0"/>
<rect x="337" y="377" width="2" height="2" fill="#f00"/>
<rect x="341" y="378" width="2" height="2" fill="#0f0"/>
<rect x="349" y="379" width="2" height="2" fill="#0f0"/>
<rect x="351" y="380" width="1" height="1" fill="#f00"/>
<rect x="341" y="381" width="2" height="1" fill="#f00"/>
<rect x="334" y="382" width="2" height="2" fill="#f00"/>
<rect x="333" y="383" width="2" height="2" fill="#0f0"/>
<rect x="335" y="383" width="2" height="2" fill="#00f"/>
<rect x="340" y="384" width="2" height="2" fill="#0f0"/>
<rect x="312" y="381" width="2" height="2" fill="#f00"/>
<rect x="319" y="381" width="2" height="1" fill="#00f"/>
<rect x="321" y="383" width="2" height="1" fill="#0f0"/>
<rect x="302" y="383" width="2" height="2" fill="#00f"/>
<rect x="313" y="384" width="2" height="2" fill="#0f0"/>
<rect x="318" y="385" width="2" height="2" fill="#f00"/>
<rect x="308" y="385" width="2" height="2" fill="#00f"/>
<rect x="303" y="386" width="2" height="1" fill="#00f"/>
<rect x="306" y="387" width="2" height="1" fill="#000"/>
<rect x="324" y="387" width="2" height="2" fill="#00f"/>
<rect x="298" y="388" width="2" height="2" fill="#f00"/>
<rect x="310" y="388" width="2" height="2" fill="#f00"/>
<rect x="306" y="389" width="2" height="2" fill="#f00"/>
<rect x="299" y="391" width="2" height="2" fill="#0f0"/>
<rect x="321" y="391" width="2" height="2" fill="#f00"/>
<rect x="325" y="392" width="2" height="2" fill="#f00"/>
<rect x="324" y="393" width="2" height="2" fill="#f00"/>
<rect x="313" y="393" width="2" height="2" fill="#0f0"/>
<rect x="314" y="393" width="2" height="2" fill="#00f"/>
<rect x="297" y="395" width="1" height="2" fill="#f00"/>
<rect x="313" y="396" width="2" height="2" fill="#00f"/>
<rect x="318" y="398" width="2" height="2" fill="#f00"/>
<rect x="311" y="399" width="2" height="3" fill="#0f0"/>
<rect x="316" y="400" width="2" height="1" fill="#0f0"/>
<rect x="325" y="399" width="2" height="2" fill="#0f0"/>
<rect x="297" y="400" width="1" height="2" fill="#0f0"/>
<rect x="306" y="402" width="2" height="3" fill="#00f"/>
<rect x="312" y="406" width="4" height="2" fill="#f00"/>
<rect x="317" y="407" width="2" height="2" fill="#000"/>
<rect x="310" y="408" width="2" height="2" fill="#00f"/>
<rect x="304" y="409" width="2" height="2" fill="#00f"/>
<rect x="336" y="385" width="2" height="2" fill="#f00"/>
<rect x="342" y="386" width="2" height="2" fill="#f00"/>
<rect x="344" y="386" width="2" height="2" fill="#00f"/>
<rect x="348" y="385" width="2" height="2" fill="#f00"/>
<rect x="353" y="386" width="2" height="2" fill="#f00"/>
<rect x="332" y="386" width="2" height="2" fill="#00f"/>
<rect x="334" y="387" width="2" height="2" fill="#0f0"/>
<rect x="336" y="388" width="2" height="1" fill="#00f"/>
<rect x="334" y="389" width="3" height="2" fill="#00f"/>
<rect x="336" y="391" width="2" height="2" fill="#f00"/>
<rect x="339" y="391" width="2" height="2" fill="#00f"/>
<rect x="342" y="391" width="2" height="2" fill="#f00"/>
<rect x="341" y="393" width="2" height="2" fill="#f00"/>
<rect x="331" y="392" width="2" height="1" fill="#f00"/>
<rect x="334" y="392" width="2" height="2" fill="#0f0"/>
<rect x="350" y="391" width="2" height="2" fill="#00f"/>
<rect x="352" y="394" width="1" height="2" fill="#f00"/>
<rect x="334" y="395" width="2" height="1" fill="#0f0"/>
<rect x="349" y="397" width="2" height="2" fill="#00f"/>
<rect x="349" y="399" width="2" height="1" fill="#0f0"/>
<rect x="352" y="398" width="2" height="2" fill="#f00"/>
<rect x="334" y="398" width="2" height="2" fill="#0f0"/>
<rect x="336" y="399" width="2" height="2" fill="#f00"/>
<rect x="333" y="400" width="2" height="1" fill="#00f"/>
<rect x="333" y="401" width="2" height="2" fill="#0f0"/>
<rect x="331" y="402" width="2" height="2" fill="#00f"/>
<rect x="352" y="401" width="2" height="1" fill="#f00"/>
<rect x="341" y="405" width="2" height="2" fill="#00f"/>
<rect x="334" y="405" width="2" height="2" fill="#f00"/>
<rect x="336" y="406" width="2" height="2" fill="#0f0"/>
<rect x="330" y="407" width="2" height="1" fill="#0f0"/>
<rect x="345" y="406" width="2" height="2" fill="#f00"/>
<rect x="338" y="408" width="2" height="3" fill="#f00"/>
<rect x="346" y="408" width="2" height="2" fill="#f00"/>
<rect x="343" y="409" width="2" height="2" fill="#00f"/>
<rect x="348" y="409" width="2" height="2" fill="#00f"/>
<rect x="351" y="408" width="2" height="2" fill="#0f0"/>
<rect x="334" y="410" width="1" height="1" fill="#00f"/>
<rect x="338" y="411" width="2" height="1" fill="#0f0"/>
<rect x="343" y="411" width="2" height="2" fill="#f00"/>
<rect x="346" y="412" width="2" height="2" fill="#0f0"/>
<rect x="349" y="411" width="2" height="1" fill="#00f"/>
<rect x="324" y="411" width="2" height="2" fill="#0f0"/>
<rect x="324" y="413" width="2" height="1" fill="#00f"/>
<rect x="299" y="413" width="2" height="2" fill="#00f"/>
<rect x="307" y="412" width="2" height="2" fill="#0f0"/>
<rect x="313" y="413" width="2" height="2" fill="#0f0"/>
<rect x="322" y="413" width="2" height="2" fill="#000"/>
<rect x="323" y="414" width="2" height="2" fill="#f00"/>
<rect x="330" y="415" width="2" height="1" fill="#f00"/>
<rect x="336" y="415" width="2" height="2" fill="#0f0"/>
<rect x="303" y="416" width="2" height="2" fill="#0f0"/>
<rect x="324" y="417" width="2" height="2" fill="#00f"/>
<rect x="326" y="417" width="2" height="1" fill="#0f0"/>
<rect x="330" y="417" width="2" height="2" fill="#0f0"/>
<rect x="333" y="418" width="2" height="2" fill="#000"/>
<rect x="348" y="417" width="2" height="2" fill="#f00"/>
<rect x="309" y="418" width="2" height="2" fill="#0f0"/>
<rect x="342" y="419" width="2" height="2" fill="#00f"/>
<rect x="346" y="419" width="2" height="2" fill="#f00"/>
<rect x="314" y="421" width="2" height="1" fill="#f00"/>
<rect x="318" y="420" width="2" height="2" fill="#f00"/>
<rect x="332" y="421" width="2" height="2" fill="#0f0"/>
<rect x="328" y="423" width="2" height="1" fill="#00f"/>
<rect x="336" y="423" width="2" height="2" fill="#00f"/>
<rect x="338" y="422" width="2" height="2" fill="#0f0"/>
<rect x="317" y="423" width="2" height="2" fill="#0f0"/>
<rect x="323" y="424" width="2" height="2" fill="#0f0"/>
<rect x="345" y="424" width="2" height="2" fill="#f00"/>
<rect x="349" y="425" width="2" height="2" fill="#0f0"/>
<rect x="338" y="425" width="2" height="2" fill="#f00"/>
<rect x="332" y="425" width="2" height="2" fill="#0f0"/>
<rect x="319" y="426" width="1" height="1" fill="#f00"/>
<rect x="318" y="427" width="2" height="2" fill="#0f0"/>
<rect x="327" y="428" width="2" height="1" fill="#f00"/>
<rect x="329" y="428" width="2" height="1" fill="#0f0"/>
<rect x="305" y="428" width="2" height="2" fill="#00f"/>
<rect x="339" y="428" width="2" height="2" fill="#00f"/>
<rect x="338" y="428" width="1" height="2" fill="#0f0"/>
<rect x="334" y="430" width="2" height="2" fill="#00f"/>
<rect x="350" y="430" width="2" height="2" fill="#f00"/>
<rect x="300" y="433" width="2" height="1" fill="#00f"/>
<rect x="322" y="433" width="2" height="2" fill="#f00"/>
<rect x="317" y="435" width="2" height="1" fill="#f00"/>
<rect x="343" y="434" width="4" height="2" fill="#f00"/>
<rect x="325" y="435" width="2" height="2" fill="#0f0"/>
<rect x="307" y="440" width="2" height="1" fill="#0f0"/>
<rect x="333" y="439" width="2" height="1" fill="#00f"/>
<rect x="335" y="439" width="2" height="2" fill="#0f0"/>
<rect x="340" y="439" width="2" height="2" fill="#0f0"/>
<rect x="353" y="442" width="2" height="2" fill="#00f"/>
<rect x="305" y="444" width="2" height="2" fill="#000"/>
<rect x="308" y="444" width="2" height="2" fill="#f00"/>
<rect x="317" y="444" width="1" height="2" fill="#f00"/>
<rect x="322" y="444" width="2" height="2" fill="#00f"/>
<rect x="334" y="445" width="1" height="2" fill="#0f0"/>
<rect x="335" y="446" width="2" height="2" fill="#f00"/>
<rect x="324" y="447" width="2" height="2" fill="#0f0"/>
<rect x="330" y="447" width="2" height="2" fill="#0f0"/>
<rect x="322" y="449" width="2" height="1" fill="#0f0"/>
<rect x="337" y="448" width="2" height="2" fill="#00f"/>
<rect x="344" y="449" width="2" height="2" fill="#00f"/>
<rect x="345" y="450" width="2" height="2" fill="#f00"/>
<rect x="347" y="450" width="2" height="2" fill="#0f0"/>
<rect x="298" y="451" width="2" height="2" fill="#00f"/>
<rect x="309" y="452" width="2" height="2" fill="#0f0"/>
<rect x="314" y="452" width="2" height="2" fill="#0f0"/>
<rect x="319" y="453" width="2" height="2" fill="#0f0"/>
<rect x="331" y="452" width="2" height="2" fill="#00f"/>
<rect x="334" y="451" width="2" height="2" fill="#f00"/>
<rect x="340" y="456" width="2" height="1" fill="#f00"/>
<rect x="348" y="457" width="2" height="3" fill="#0f0"/>
<rect x="350" y="457" width="1" height="1" fill="#f00"/>
<rect x="337" y="460" width="2" height="2" fill="#0f0"/>
<rect x="352" y="460" width="2" height="2" fill="#0f0"/>
<rect x="308" y="463" width="2" height="2" fill="#00f"/>
<rect x="344" y="468" width="2" height="2" fill="#0f0"/>
<rect x="337" y="470" width="2" height="2" fill="#f00"/>
<rect x="302" y="472" width="2" height="2" fill="#0f0"/>
<rect x="315" y="473" width="2" height="2" fill="#00f"/>
<rect x="318" y="473" width="2" height="1" fill="#f00"/>
<rect x="345" y="472" width="2" height="2" fill="#f00"/>
<rect x="346" y="474" width="1" height="2" fill="#f00"/>
<rect x="350" y="473" width="2" height="2" fill="#f00"/>
<rect x="327" y="478" width="2" height="1" fill="#0f0"/>
<rect x="347" y="478" width="2" height="2" fill="#000"/>
<rect x="330" y="480" width="2" height="2" fill="#00f"/>
<rect x="332" y="480" width="1" height="2" fill="#f00"/>
<rect x="337" y="480" width="1" height="2" fill="#f00"/>
<rect x="338" y="480" width="1" height="2" fill="#00f"/>
<rect x="353" y="480" width="2" height="2" fill="#00f"/>
<rect x="345" y="483" width="2" height="1" fill="#000"/>
<rect x="350" y="485" width="2" height="2" fill="#00f"/>
<rect x="353" y="486" width="2" height="2" fill="#f00"/>
<rect x="320" y="488" width="2" height="2" fill="#0f0"/>
<rect x="347" y="490" width="1" height="2" fill="#0f0"/>
<rect x="351" y="490" width="2" height="2" fill="#00f"/>
<rect x="334" y="492" width="1" height="1" fill="#f00"/>
<rect x="335" y="492" width="1" height="2" fill="#0f0"/>
<rect x="343" y="493" width="2" height="1" fill="#00f"/>
<rect x="325" y="496" width="2" height="1" fill="#0f0"/>
<rect x="349" y="497" width="2" height="2" fill="#0f0"/>
<rect x="335" y="499" width="2" height="2" fill="#0f0"/>
<rect x="348" y="501" width="2" height="2" fill="#0f0"/>
<rect x="349" y="510" width="2" height="2" fill="#0f0"/>
<rect x="343" y="516" width="2" height="1" fill="#0f0"/>
<rect x="348" y="519" width="2" height="1" fill="#f00"/>
<rect x="348" y="523" width="2" height="2" fill="#0f0"/>
<rect x="336" y="547" width="2" height="2" fill="#000"/>
<rect x="313" y="560" width="2" height="2" fill="#00f"/>
<rect x="339" y="564" width="2" height="2" fill="#0f0"/>
<rect x="343" y="563" width="2" height="2" fill="#f00"/>
<rect x="311" y="595" width="2" height="2" fill="#f00"/>
<rect x="293" y="297" width="2" height="1" fill="#0f0"/>
<rect x="290" y="326" width="2" height="1" fill="#000"/>
<rect x="288" y="345" width="2" height="2" fill="#f00"/>
<rect x="295" y="343" width="1" height="2" fill="#000"/>
<rect x="263" y="353" width="2" height="2" fill="#f00"/>
<rect x="269" y="354" width="2" height="2" fill="#f00"/>
<rect x="273" y="353" width="2" height="2" fill="#f00"/>
<rect x="279" y="353" width="2" height="1" fill="#00f"/>
<rect x="288" y="354" width="2" height="2" fill="#f00"/>
<rect x="290" y="355" width="2" height="2" fill="#00f"/>
<rect x="292" y="352" width="2" height="2" fill="#0f0"/>
<rect x="281" y="358" width="2" height="2" fill="#0f0"/>
<rect x="252" y="360" width="2" height="2" fill="#f00"/>
<rect x="250" y="364" width="2" height="2" fill="#f00"/>
<rect x="270" y="362" width="2" height="2" fill="#00f"/>
<rect x="263" y="364" width="2" height="2" fill="#f00"/>
<rect x="280" y="363" width="2" height="2" fill="#f00"/>
<rect x="259" y="366" width="2" height="2" fill="#f00"/>
<rect x="295" y="365" width="2" height="2" fill="#f00"/>
<rect x="296" y="369" width="2" height="2" fill="#0f0"/>
<rect x="241" y="372" width="2" height="2" fill="#f00"/>
<rect x="263" y="373" width="2" height="2" fill="#00f"/>
<rect x="269" y="373" width="2" height="1" fill="#f00"/>
<rect x="252" y="375" width="2" height="1" fill="#00f"/>
<rect x="277" y="375" width="2" height="2" fill="#00f"/>
<rect x="287" y="375" width="2" height="2" fill="#00f"/>
<rect x="247" y="377" width="2" height="2" fill="#00f"/>
<rect x="246" y="379" width="2" height="1" fill="#000"/>
<rect x="253" y="379" width="2" height="2" fill="#f00"/>
<rect x="255" y="378" width="1" height="1" fill="#f00"/>
<rect x="294" y="380" width="2" height="2" fill="#0f0"/>
<rect x="266" y="382" width="2" height="2" fill="#f00"/>
<rect x="283" y="382" width="2" height="2" fill="#000"/>
<rect x="272" y="384" width="2" height="2" fill="#0f0"/>
<rect x="256" y="384" width="2" height="2" fill="#0f0"/>
<rect x="258" y="385" width="2" height="2" fill="#f00"/>
<rect x="259" y="387" width="2" height="1" fill="#00f"/>
<rect x="241" y="387" width="1" height="2" fill="#00f"/>
<rect x="247" y="386" width="2" height="2" fill="#f00"/>
<rect x="251" y="388" width="2" height="1" fill="#0f0"/>
<rect x="257" y="388" width="2" height="2" fill="#00f"/>
<rect x="269" y="388" width="2" height="2" fill="#f00"/>
<rect x="296" y="386" width="2" height="2" fill="#00f"/>
<rect x="294" y="389" width="2" height="1" fill="#00f"/>
<rect x="261" y="390" width="2" height="1" fill="#0f0"/>
<rect x="270" y="391" width="2" height="2" fill="#00f"/>
<rect x="288" y="390" width="2" height="2" fill="#00f"/>
<rect x="250" y="391" width="2" height="2" fill="#0f0"/>
<rect x="254" y="392" width="2" height="2" fill="#f00"/>
<rect x="248" y="394" width="4" height="2" fill="#0f0"/>
<rect x="266" y="394" width="1" height="2" fill="#f00"/>
<rect x="276" y="393" width="2" height="2" fill="#0f0"/>
<rect x="285" y="392" width="2" height="2" fill="#0f0"/>
<rect x="278" y="396" width="2" height="2" fill="#f00"/>
<rect x="245" y="397" width="2" height="2" fill="#0f0"/>
<rect x="244" y="398" width="2" height="2" fill="#0f0"/>
<rect x="252" y="398" width="2" height="2" fill="#f00"/>
<rect x="257" y="400" width="2" height="1" fill="#0f0"/>
<rect x="285" y="397" width="2" height="2" fill="#00f"/>
<rect x="283" y="399" width="2" height="1" fill="#0f0"/>
<rect x="277" y="398" width="2" height="2" fill="#0f0"/>
<rect x="291" y="398" width="2" height="2" fill="#0f0"/>
<rect x="293" y="398" width="2" height="2" fill="#f00"/>
<rect x="243" y="400" width="2" height="2" fill="#0f0"/>
<rect x="266" y="400" width="2" height="2" fill="#f00"/>
<rect x="272" y="401" width="2" height="1" fill="#00f"/>
<rect x="271" y="403" width="2" height="2" fill="#0f0"/>
<rect x="282" y="403" width="2" height="2" fill="#00f"/>
<rect x="285" y="403" width="2" height="2" fill="#0f0"/>
<rect x="295" y="402" width="2" height="2" fill="#0f0"/>
<rect x="296" y="404" width="2" height="2" fill="#00f"/>
<rect x="249" y="405" width="3" height="2" fill="#0f0"/>
<rect x="274" y="407" width="2" height="1" fill="#0f0"/>
<rect x="282" y="407" width="2" height="1" fill="#000"/>
<rect x="295" y="407" width="2" height="2" fill="#f00"/>
<rect x="260" y="408" width="2" height="2" fill="#0f0"/>
<rect x="242" y="411" width="2" height="1" fill="#0f0"/>
<rect x="276" y="411" width="2" height="2" fill="#f00"/>
<rect x="279" y="410" width="2" height="2" fill="#0f0"/>
<rect x="255" y="414" width="2" height="2" fill="#0f0"/>
<rect x="265" y="413" width="2" height="2" fill="#0f0"/>
<rect x="280" y="415" width="2" height="2" fill="#f00"/>
<rect x="255" y="419" width="2" height="1" fill="#0f0"/>
<rect x="277" y="419" width="2" height="2" fill="#f00"/>
<rect x="279" y="421" width="2" height="2" fill="#0f0"/>
<rect x="281" y="422" width="2" height="2" fill="#0f0"/>
<rect x="260" y="424" width="2" height="2" fill="#f00"/>
<rect x="244" y="429" width="2" height="2" fill="#0f0"/>
<rect x="278" y="428" width="2" height="1" fill="#000"/>
<rect x="295" y="426" width="2" height="1" fill="#00f"/>
<rect x="297" y="426" width="1" height="2" fill="#0f0"/>
<rect x="278" y="433" width="2" height="2" fill="#0f0"/>
<rect x="288" y="436" width="2" height="2" fill="#0f0"/>
<rect x="292" y="435" width="2" height="2" fill="#0f0"/>
<rect x="210" y="344" width="2" height="2" fill="#f00"/>
<rect x="211" y="359" width="2" height="2" fill="#f00"/>
<rect x="210" y="363" width="2" height="2" fill="#f00"/>
<rect x="208" y="367" width="2" height="2" fill="#f00"/>
<rect x="238" y="360" width="2" height="2" fill="#00f"/>
<rect x="239" y="364" width="2" height="2" fill="#000"/>
<rect x="225" y="367" width="2" height="2" fill="#00f"/>
<rect x="234" y="367" width="2" height="2" fill="#f00"/>
<rect x="238" y="370" width="2" height="2" fill="#f00"/>
<rect x="231" y="371" width="2" height="1" fill="#00f"/>
<rect x="194" y="370" width="2" height="2" fill="#f00"/>
<rect x="184" y="374" width="3" height="2" fill="#00f"/>
<rect x="181" y="377" width="2" height="2" fill="#00f"/>
<rect x="227" y="373" width="2" height="2" fill="#f00"/>
<rect x="229" y="374" width="2" height="2" fill="#f00"/>
<rect x="237" y="373" width="2" height="2" fill="#000"/>
<rect x="189" y="378" width="1" height="2" fill="#00f"/>
<rect x="213" y="377" width="2" height="1" fill="#f00"/>
<rect x="231" y="377" width="2" height="2" fill="#f00"/>
<rect x="225" y="380" width="2" height="1" fill="#f00"/>
<rect x="230" y="379" width="2" height="2" fill="#0f0"/>
<rect x="193" y="380" width="2" height="2" fill="#f00"/>
<rect x="186" y="381" width="2" height="2" fill="#f00"/>
<rect x="235" y="381" width="1" height="2" fill="#00f"/>
<rect x="189" y="384" width="2" height="1" fill="#00f"/>
<rect x="225" y="382" width="2" height="2" fill="#0f0"/>
<rect x="216" y="384" width="2" height="2" fill="#f00"/>
<rect x="196" y="385" width="2" height="2" fill="#00f"/>
<rect x="235" y="385" width="2" height="2" fill="#0f0"/>
<rect x="198" y="389" width="2" height="1" fill="#0f0"/>
<rect x="217" y="389" width="2" height="2" fill="#00f"/>
<rect x="215" y="390" width="2" height="2" fill="#00f"/>
<rect x="231" y="388" width="2" height="2" fill="#0f0"/>
<rect x="207" y="391" width="2" height="2" fill="#f00"/>
<rect x="195" y="392" width="2" height="2" fill="#00f"/>
<rect x="237" y="391" width="2" height="2" fill="#0f0"/>
<rect x="187" y="393" width="2" height="2" fill="#00f"/>
<rect x="189" y="394" width="1" height="1" fill="#0f0"/>
<rect x="210" y="394" width="2" height="1" fill="#00f"/>
<rect x="223" y="393" width="2" height="2" fill="#f00"/>
<rect x="225" y="394" width="4" height="2" fill="#0f0"/>
<rect x="220" y="395" width="2" height="2" fill="#0f0"/>
<rect x="219" y="398" width="2" height="2" fill="#0f0"/>
<rect x="191" y="396" width="2" height="2" fill="#0f0"/>
<rect x="209" y="398" width="2" height="1" fill="#0f0"/>
<rect x="235" y="397" width="2" height="2" fill="#00f"/>
<rect x="189" y="402" width="2" height="2" fill="#0f0"/>
<rect x="199" y="404" width="2" height="2" fill="#0f0"/>
<rect x="202" y="404" width="2" height="2" fill="#0f0"/>
<rect x="238" y="411" width="2" height="2" fill="#f00"/>
<rect x="195" y="414" width="2" height="2" fill="#0f0"/>
<rect x="221" y="416" width="2" height="2" fill="#0f0"/>
<rect x="193" y="420" width="2" height="2" fill="#0f0"/>
<rect x="219" y="423" width="2" height="2" fill="#0f0"/>
<rect x="200" y="433" width="2" height="2" fill="#0f0"/>
<rect x="181" y="438" width="2" height="2" fill="#0f0"/>
<rect x="208" y="446" width="2" height="2" fill="#0f0"/>
<rect x="149" y="372" width="2" height="2" fill="#000"/>
<rect x="132" y="378" width="2" height="2" fill="#00f"/>
<rect x="173" y="378" width="2" height="1" fill="#00f"/>
<rect x="172" y="381" width="2" height="2" fill="#00f"/>
<rect x="140" y="386" width="2" height="1" fill="#f00"/>
<rect x="161" y="390" width="2" height="1" fill="#0f0"/>
<rect x="177" y="392" width="2" height="2" fill="#00f"/>
<rect x="136" y="394" width="2" height="2" fill="#0f0"/>
<rect x="168" y="394" width="2" height="1" fill="#00f"/>
<rect x="172" y="395" width="2" height="2" fill="#0f0"/>
<rect x="159" y="400" width="2" height="2" fill="#0f0"/>
<rect x="135" y="404" width="2" height="2" fill="#0f0"/>
<rect x="151" y="405" width="2" height="2" fill="#0f0"/>
<rect x="167" y="406" width="2" height="2" fill="#0f0"/>
<rect x="172" y="404" width="2" height="1" fill="#0f0"/>
<rect x="178" y="419" width="2" height="2" fill="#0f0"/>
<rect x="156" y="421" width="2" height="2" fill="#0f0"/>
<rect x="161" y="426" width="2" height="2" fill="#0f0"/>
<rect x="107" y="372" width="2" height="2" fill="#000"/>
<rect x="109" y="377" width="2" height="1" fill="#f00"/>
<rect x="71" y="392" width="2" height="2" fill="#0f0"/>
<rect x="103" y="398" width="2" height="2" fill="#0f0"/>
<rect x="74" y="406" width="2" height="2" fill="#0f0"/>
<rect x="117" y="406" width="2" height="2" fill="#0f0"/>
<rect x="113" y="412" width="1" height="2" fill="#0f0"/>
<rect x="416" y="275" width="2" height="2" fill="#f00"/>
<rect x="414" y="377" width="2" height="2" fill="#f00"/>
<rect x="414" y="417" width="2" height="2" fill="#00f"/>
<rect x="414" y="602" width="2" height="2" fill="#f00"/>
<rect x="247" y="475" width="2" height="2" fill="#0f0"/>
<rect x="228" y="484" width="2" height="1" fill="#0f0"/>
<rect x="277" y="498" width="2" height="2" fill="#f00"/></g>
<text transform="translate(141.00,45.60) scale(1.0059,1)" font-family="Liberation Serif, serif" font-size="25" font-weight="bold" fill="#00f" stroke="#00f" stroke-width="0.7" text-anchor="start">HSTPHOT: Field sex_a_u2x502</text>
<text transform="translate(271.00,676.00) scale(1.0239,1)" font-family="DejaVu Sans, Liberation Sans, sans-serif" font-size="20.1" font-weight="200" fill="#00f" stroke="#00f" stroke-width="0.35" text-anchor="start">magnitude</text>
<text transform="translate(29.00,272.00) rotate(-90) scale(1.1379,1)" font-family="DejaVu Sans, Liberation Sans, sans-serif" font-size="18.3" font-weight="200" fill="#00f" stroke="#00f" stroke-width="0.35" text-anchor="start">aperture correction</text>
<text transform="translate(95.00,94.00) scale(0.9740,1)" font-family="DejaVu Sans, Liberation Sans, sans-serif" font-size="16" font-weight="200" fill="#00f" stroke="#00f" stroke-width="0.35" text-anchor="start">All CCDs</text>
<text transform="translate(100.00,113.50) scale(0.9910,1)" font-family="DejaVu Sans, Liberation Sans, sans-serif" font-size="16.5" font-weight="200" fill="#00f" stroke="#00f" stroke-width="0.35" text-anchor="start">F439W</text>
<text transform="translate(72.50,651.50) scale(0.9900,1)" font-family="DejaVu Sans, Liberation Sans, sans-serif" font-size="12.5" font-weight="200" fill="#00f" stroke="#00f" stroke-width="0.35" text-anchor="middle">19</text>
<text transform="translate(128.50,651.50) scale(0.9900,1)" font-family="DejaVu Sans, Liberation Sans, sans-serif" font-size="12.5" font-weight="200" fill="#00f" stroke="#00f" stroke-width="0.35" text-anchor="middle">20</text>
<text transform="translate(185.50,651.50) scale(0.9900,1)" font-family="DejaVu Sans, Liberation Sans, sans-serif" font-size="12.5" font-weight="200" fill="#00f" stroke="#00f" stroke-width="0.35" text-anchor="middle">21</text>
<text transform="translate(242.50,651.50) scale(0.9900,1)" font-family="DejaVu Sans, Liberation Sans, sans-serif" font-size="12.5" font-weight="200" fill="#00f" stroke="#00f" stroke-width="0.35" text-anchor="middle">22</text>
<text transform="translate(298.50,651.50) scale(0.9900,1)" font-family="DejaVu Sans, Liberation Sans, sans-serif" font-size="12.5" font-weight="200" fill="#00f" stroke="#00f" stroke-width="0.35" text-anchor="middle">23</text>
<text transform="translate(355.50,651.50) scale(0.9900,1)" font-family="DejaVu Sans, Liberation Sans, sans-serif" font-size="12.5" font-weight="200" fill="#00f" stroke="#00f" stroke-width="0.35" text-anchor="middle">24</text>
<text transform="translate(412.50,651.50) scale(0.9900,1)" font-family="DejaVu Sans, Liberation Sans, sans-serif" font-size="12.5" font-weight="200" fill="#00f" stroke="#00f" stroke-width="0.35" text-anchor="middle">25</text>
<text transform="translate(469.50,651.50) scale(0.9900,1)" font-family="DejaVu Sans, Liberation Sans, sans-serif" font-size="12.5" font-weight="200" fill="#00f" stroke="#00f" stroke-width="0.35" text-anchor="middle">26</text>
<text transform="translate(525.50,651.50) scale(0.9900,1)" font-family="DejaVu Sans, Liberation Sans, sans-serif" font-size="12.5" font-weight="200" fill="#00f" stroke="#00f" stroke-width="0.35" text-anchor="middle">27</text>
<text transform="translate(582.50,651.50) scale(0.9900,1)" font-family="DejaVu Sans, Liberation Sans, sans-serif" font-size="12.5" font-weight="200" fill="#00f" stroke="#00f" stroke-width="0.35" text-anchor="middle">28</text>
<text transform="translate(61.00,75.50) scale(0.9350,1)" font-family="DejaVu Sans, Liberation Sans, sans-serif" font-size="12.5" font-weight="200" fill="#00f" stroke="#00f" stroke-width="0.35" text-anchor="end">1</text>
<text transform="translate(61.00,131.50) scale(0.9350,1)" font-family="DejaVu Sans, Liberation Sans, sans-serif" font-size="12.5" font-weight="200" fill="#00f" stroke="#00f" stroke-width="0.35" text-anchor="end">0.8</text>
<text transform="translate(61.00,188.50) scale(0.9350,1)" font-family="DejaVu Sans, Liberation Sans, sans-serif" font-size="12.5" font-weight="200" fill="#00f" stroke="#00f" stroke-width="0.35" text-anchor="end">0.6</text>
<text transform="translate(61.00,245.50) scale(0.9350,1)" font-family="DejaVu Sans, Liberation Sans, sans-serif" font-size="12.5" font-weight="200" fill="#00f" stroke="#00f" stroke-width="0.35" text-anchor="end">0.4</text>
<text transform="translate(61.00,301.50) scale(0.9350,1)" font-family="DejaVu Sans, Liberation Sans, sans-serif" font-size="12.5" font-weight="200" fill="#00f" stroke="#00f" stroke-width="0.35" text-anchor="end">0.2</text>
<text transform="translate(61.00,358.50) scale(0.9350,1)" font-family="DejaVu Sans, Liberation Sans, sans-serif" font-size="12.5" font-weight="200" fill="#00f" stroke="#00f" stroke-width="0.35" text-anchor="end">0</text>
<text transform="translate(61.00,415.50) scale(0.9350,1)" font-family="DejaVu Sans, Liberation Sans, sans-serif" font-size="12.5" font-weight="200" fill="#00f" stroke="#00f" stroke-width="0.35" text-anchor="end">0.2</text>
<text transform="translate(32.00,415.00) scale(0.9119,1)" font-family="DejaVu Sans, Liberation Sans, sans-serif" font-size="12.5" font-weight="200" fill="#00f" stroke="#00f" stroke-width="0.35" text-anchor="start">−</text>
<text transform="translate(61.00,472.50) scale(0.9350,1)" font-family="DejaVu Sans, Liberation Sans, sans-serif" font-size="12.5" font-weight="200" fill="#00f" stroke="#00f" stroke-width="0.35" text-anchor="end">0.4</text>
<text transform="translate(32.00,472.00) scale(0.9119,1)" font-family="DejaVu Sans, Liberation Sans, sans-serif" font-size="12.5" font-weight="200" fill="#00f" stroke="#00f" stroke-width="0.35" text-anchor="start">−</text>
<text transform="translate(61.00,528.50) scale(0.9350,1)" font-family="DejaVu Sans, Liberation Sans, sans-serif" font-size="12.5" font-weight="200" fill="#00f" stroke="#00f" stroke-width="0.35" text-anchor="end">0.6</text>
<text transform="translate(32.00,528.00) scale(0.9119,1)" font-family="DejaVu Sans, Liberation Sans, sans-serif" font-size="12.5" font-weight="200" fill="#00f" stroke="#00f" stroke-width="0.35" text-anchor="start">−</text>
<text transform="translate(61.00,585.50) scale(0.9350,1)" font-family="DejaVu Sans, Liberation Sans, sans-serif" font-size="12.5" font-weight="200" fill="#00f" stroke="#00f" stroke-width="0.35" text-anchor="end">0.8</text>
<text transform="translate(32.00,585.00) scale(0.9119,1)" font-family="DejaVu Sans, Liberation Sans, sans-serif" font-size="12.5" font-weight="200" fill="#00f" stroke="#00f" stroke-width="0.35" text-anchor="start">−</text>
<text transform="translate(61.00,642.50) scale(0.9350,1)" font-family="DejaVu Sans, Liberation Sans, sans-serif" font-size="12.5" font-weight="200" fill="#00f" stroke="#00f" stroke-width="0.35" text-anchor="end">1</text>
<text transform="translate(44.00,642.00) scale(0.9119,1)" font-family="DejaVu Sans, Liberation Sans, sans-serif" font-size="12.5" font-weight="200" fill="#00f" stroke="#00f" stroke-width="0.35" text-anchor="start">−</text></svg>
</body></html>
